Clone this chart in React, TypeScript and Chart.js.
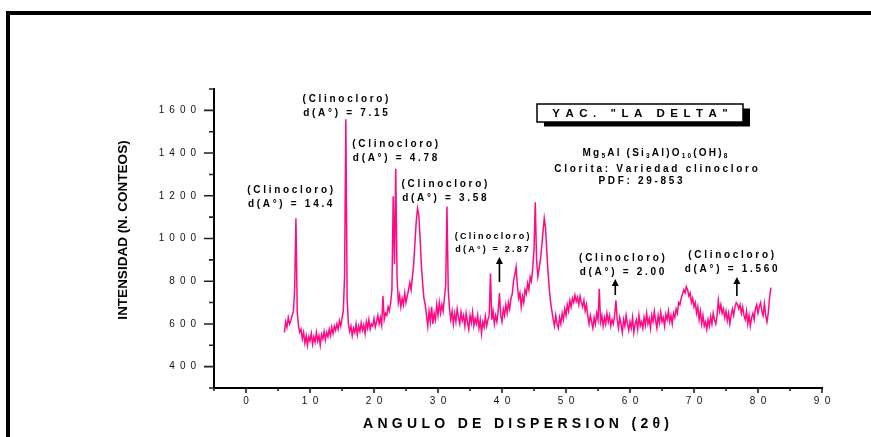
import { useEffect, useRef } from 'react';
import { Chart, LineController, LineElement, PointElement, LinearScale } from 'chart.js';
import type { Plugin } from 'chart.js';

Chart.register(LineController, LineElement, PointElement, LinearScale);

const FONT = "'Liberation Sans', Arial, Helvetica, sans-serif";

// diffractogram: 2θ from 6° to 82° in 0.2° steps
const ANGLE_START = 6;
const ANGLE_STEP = 0.2;
const COUNTS = [
  560, 610, 585, 630, 600, 615, 640, 655, 760, 1095, // 6
  660, 590, 560, 575, 530, 560, 510, 545, 500, 540, // 8
  520, 555, 505, 540, 515, 560, 520, 545, 500, 550, // 10
  530, 565, 525, 560, 540, 575, 545, 585, 555, 590, // 12
  570, 600, 575, 615, 590, 625, 660, 820, 1558, 720, // 14
  600, 565, 590, 545, 580, 560, 600, 550, 590, 565, // 16
  605, 570, 595, 555, 610, 580, 620, 575, 600, 590, // 18
  625, 585, 610, 640, 600, 630, 595, 730, 620, 650, // 20
  640, 680, 660, 700, 760, 1198, 880, 1327, 820, 700, // 22
  735, 680, 720, 690, 745, 700, 730, 760, 793, 760, // 24
  820, 880, 980, 1080, 1141, 1110, 1000, 880, 790, 720, // 26
  690, 640, 590, 660, 610, 680, 600, 650, 620, 690, // 28
  640, 700, 650, 690, 660, 720, 780, 1150, 760, 670, // 30
  620, 660, 600, 650, 610, 670, 630, 600, 655, 615, // 32
  640, 590, 650, 610, 575, 640, 605, 655, 590, 625, // 34
  600, 640, 580, 620, 555, 610, 585, 635, 590, 620, // 36
  640, 836, 620, 660, 600, 640, 610, 660, 745, 640, // 38
  610, 670, 640, 690, 650, 700, 670, 720, 740, 800, // 40
  830, 866, 780, 720, 745, 680, 730, 700, 760, 740, // 42
  790, 760, 820, 800, 860, 950, 1170, 900, 822, 860, // 44
  900, 960, 1030, 1094, 1050, 940, 840, 760, 700, 660, // 46
  620, 590, 640, 600, 580, 630, 600, 650, 620, 670, // 48
  640, 690, 660, 710, 680, 720, 700, 735, 705, 725, // 50
  690, 730, 700, 680, 710, 660, 690, 640, 600, 640, // 52
  610, 580, 630, 600, 650, 620, 765, 610, 640, 590, // 54
  630, 600, 650, 610, 640, 590, 620, 600, 640, 710, // 56
  620, 580, 630, 600, 560, 620, 590, 640, 600, 570, // 58
  610, 580, 630, 560, 600, 620, 575, 640, 590, 610, // 60
  580, 630, 595, 650, 600, 625, 580, 640, 610, 660, // 62
  615, 580, 640, 605, 655, 610, 630, 590, 645, 620, // 64
  660, 610, 640, 600, 650, 630, 670, 650, 700, 690, // 66
  720, 740, 760, 745, 775, 760, 730, 745, 700, 720, // 68
  680, 700, 650, 680, 620, 660, 600, 640, 590, 610, // 70
  575, 620, 590, 635, 600, 650, 620, 600, 640, 710, // 72
  660, 690, 650, 670, 630, 660, 615, 650, 600, 640, // 74
  670, 640, 680, 700, 690, 670, 690, 650, 680, 640, // 76
  620, 660, 600, 640, 590, 630, 650, 620, 670, 690, // 78
  650, 680, 700, 660, 640, 695, 640, 610, 650, 720, // 80
  770,
];

const Y_TICK_LABELS = [400, 600, 800, 1000, 1200, 1400, 1600];
const X_TICK_LABELS = [0, 10, 20, 30, 40, 50, 60, 70, 80, 90];

const Y_TITLE = 'INTENSIDAD (N. CONTEOS)';
const X_TITLE = 'ANGULO DE DISPERSION (2θ)';
const SITE = 'YAC. "LA DELTA"';
const MINERAL = 'Clorita: Variedad clinocloro';
const PDF_CARD = 'PDF: 29-853';
// [text, subscript?]
const FORMULA: [string, boolean][] = [
  ['Mg', false], ['5', true], ['Al (Si', false], ['3', true],
  ['Al)O', false], ['10', true], ['(OH)', false], ['8', true],
];

// peak notes, placed in data units (2θ, counts) at the centre of the first line
const PEAK_NOTES = [
  { d: '14.4', angle: 6.9, count: 1227, size: 10 },
  { d: '7.15', angle: 15.55, count: 1653, size: 10 },
  { d: '4.78', angle: 23.3, count: 1442, size: 10 },
  { d: '3.58', angle: 31.0, count: 1255, size: 10 },
  { d: '2.87', angle: 38.45, count: 1008, size: 9 },
  { d: '2.00', angle: 58.75, count: 909, size: 10 },
  { d: '1.560', angle: 75.8, count: 923, size: 10 },
];
const ARROWS = [
  { angle: 39.6, from: 796, to: 913 },
  { angle: 57.7, from: 735, to: 810 },
  { angle: 76.7, from: 731, to: 820 },
];

function drawSpaced(
  ctx: CanvasRenderingContext2D,
  text: string,
  x: number,
  y: number,
  gap: number,
  align: 'left' | 'center' | 'right' = 'center',
) {
  const chars = Array.from(text);
  const widths = chars.map((c) => ctx.measureText(c).width);
  const total = widths.reduce((a, b) => a + b, 0) + gap * (chars.length - 1);
  let cx = align === 'center' ? x - total / 2 : align === 'right' ? x - total : x;
  ctx.textAlign = 'left';
  chars.forEach((c, i) => {
    ctx.fillText(c, cx, y);
    cx += widths[i] + gap;
  });
}

function drawFormula(ctx: CanvasRenderingContext2D, cx: number, y: number, gap: number) {
  const fontFor = (sub: boolean) => (sub ? `bold 6.5px ${FONT}` : `bold 10px ${FONT}`);
  const glyphs: { c: string; sub: boolean; w: number }[] = [];
  FORMULA.forEach(([text, sub]) => {
    ctx.font = fontFor(sub);
    Array.from(text).forEach((c) => glyphs.push({ c, sub, w: ctx.measureText(c).width }));
  });
  const total = glyphs.reduce((a, g) => a + g.w, 0) + gap * (glyphs.length - 1);
  let x = cx - total / 2;
  ctx.textAlign = 'left';
  glyphs.forEach((g) => {
    ctx.font = fontFor(g.sub);
    ctx.fillText(g.c, x, g.sub ? y + 3 : y);
    x += g.w + gap;
  });
}

const decorations: Plugin<'line'> = {
  id: 'decorations',
  beforeDraw(chart) {
    const { ctx, width, height } = chart;
    ctx.save();
    ctx.fillStyle = '#ffffff';
    ctx.fillRect(0, 0, width, height);
    // page frame
    ctx.fillStyle = '#000000';
    ctx.fillRect(6, 11, width - 6, 4);
    ctx.fillRect(6, 11, 4, height - 11);
    ctx.restore();
  },
  afterDraw(chart) {
    const { ctx, chartArea: area } = chart;
    const xs = chart.scales.x;
    const ys = chart.scales.y;
    ctx.save();

    // tick marks
    ctx.strokeStyle = '#222';
    ctx.lineWidth = 1.6;
    ctx.beginPath();
    ys.ticks.forEach((t) => {
      const py = ys.getPixelForValue(t.value);
      const major = Y_TICK_LABELS.includes(t.value);
      ctx.moveTo(area.left, py);
      ctx.lineTo(area.left - (major ? 10 : 5), py);
    });
    xs.ticks.forEach((t) => {
      const px = xs.getPixelForValue(t.value);
      const major = X_TICK_LABELS.includes(t.value);
      ctx.moveTo(px, area.bottom);
      ctx.lineTo(px, area.bottom + (major ? 5 : 3));
    });
    ctx.stroke();

    // tick labels
    ctx.fillStyle = '#111';
    ctx.font = `10px ${FONT}`;
    ctx.textBaseline = 'middle';
    Y_TICK_LABELS.forEach((v) => {
      drawSpaced(ctx, String(v), area.left - 18, ys.getPixelForValue(v), 5, 'right');
    });
    X_TICK_LABELS.forEach((v) => {
      drawSpaced(ctx, String(v), xs.getPixelForValue(v), area.bottom + 13.5, 5.5, 'center');
    });

    // axis titles
    ctx.fillStyle = '#000';
    ctx.font = `bold 14px ${FONT}`;
    drawSpaced(ctx, X_TITLE, 516, 424, 4.3, 'center');
    ctx.save();
    ctx.translate(123, 230);
    ctx.rotate(-Math.PI / 2);
    ctx.font = `bold 13.5px ${FONT}`;
    ctx.textAlign = 'center';
    ctx.fillText(Y_TITLE, 0, 0);
    ctx.restore();

    // peak notes
    PEAK_NOTES.forEach((n) => {
      const px = xs.getPixelForValue(n.angle);
      const py = ys.getPixelForValue(n.count);
      const gap = n.size === 10 ? 2.7 : 2.2;
      ctx.font = `bold ${n.size}px ${FONT}`;
      drawSpaced(ctx, '(Clinocloro)', px, py, gap);
      drawSpaced(ctx, `d(A°) = ${n.d}`, px, py + (n.size === 10 ? 14.5 : 12.5), gap);
    });

    // arrows
    ctx.strokeStyle = '#000';
    ctx.fillStyle = '#000';
    ctx.lineWidth = 1.6;
    ARROWS.forEach((a) => {
      const px = xs.getPixelForValue(a.angle);
      const y0 = ys.getPixelForValue(a.from);
      const y1 = ys.getPixelForValue(a.to);
      ctx.beginPath();
      ctx.moveTo(px, y0);
      ctx.lineTo(px, y1 + 6);
      ctx.stroke();
      ctx.beginPath();
      ctx.moveTo(px, y1);
      ctx.lineTo(px - 3.5, y1 + 7);
      ctx.lineTo(px + 3.5, y1 + 7);
      ctx.closePath();
      ctx.fill();
    });

    // site box with drop shadow
    ctx.fillStyle = '#000';
    ctx.fillRect(544, 108.5, 206, 18);
    ctx.fillStyle = '#fff';
    ctx.fillRect(537, 104, 206, 18);
    ctx.strokeStyle = '#000';
    ctx.lineWidth = 1.5;
    ctx.strokeRect(537, 104, 206, 18);
    ctx.fillStyle = '#000';
    ctx.font = `bold 11.5px ${FONT}`;
    drawSpaced(ctx, SITE, 640, 113.5, 5.5, 'center');

    // mineral info
    ctx.fillStyle = '#000';
    drawFormula(ctx, 655, 153, 2.2);
    ctx.font = `bold 10px ${FONT}`;
    drawSpaced(ctx, MINERAL, 656, 169, 2.7, 'center');
    drawSpaced(ctx, PDF_CARD, 640.5, 181, 2.7, 'center');

    ctx.restore();
  },
};

export default function App() {
  const canvasRef = useRef<HTMLCanvasElement>(null);

  useEffect(() => {
    if (!canvasRef.current) return;
    const points = COUNTS.map((c, i) => ({ x: ANGLE_START + i * ANGLE_STEP, y: c }));

    const chart = new Chart(canvasRef.current, {
      type: 'line',
      data: {
        datasets: [
          {
            data: points,
            borderColor: '#ff0a84',
            borderWidth: 1.5,
            pointRadius: 0,
            tension: 0,
            fill: false,
          },
        ],
      },
      options: {
        animation: false,
        responsive: true,
        maintainAspectRatio: false,
        events: [],
        layout: { padding: { left: 0, top: 89, right: 49, bottom: 0 } },
        scales: {
          x: {
            type: 'linear',
            min: -5,
            max: 90,
            ticks: { display: false, stepSize: 5 },
            grid: { display: false },
            border: { display: true, color: '#000', width: 2 },
            afterFit: (s) => {
              s.height = 49;
            },
          },
          y: {
            type: 'linear',
            min: 300,
            max: 1700,
            ticks: { display: false, stepSize: 100 },
            grid: { display: false },
            border: { display: true, color: '#000', width: 2 },
            afterFit: (s) => {
              s.width = 214;
            },
          },
        },
      },
      plugins: [decorations],
    });

    return () => {
      chart.destroy();
    };
  }, []);

  return (
    <div style={{ position: 'absolute', left: 0, top: 0, width: 871, height: 437, background: '#fff' }}>
      <canvas ref={canvasRef} />
    </div>
  );
}
